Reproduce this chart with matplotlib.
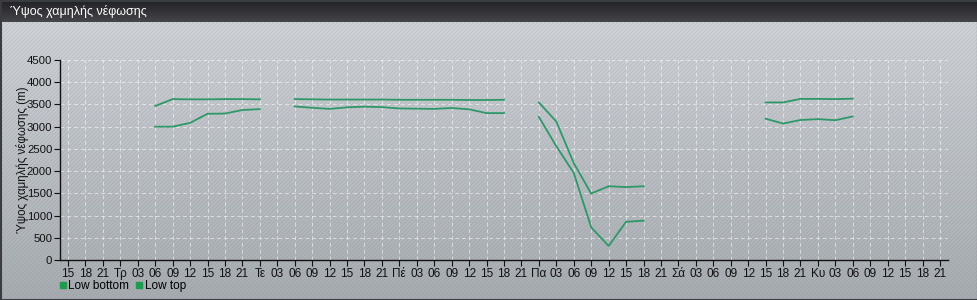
import numpy as np
import matplotlib
matplotlib.use("Agg")
import matplotlib.pyplot as plt
from matplotlib.collections import LineCollection
from matplotlib.lines import Line2D

plt.rcParams["font.family"] = ["Liberation Sans", "DejaVu Sans"]

# ─── Data ────────────────────────────────────────────────────────────────────
TITLE = "Ύψος χαμηλής νέφωσης"
Y_LABEL = "Ύψος χαμηλής νέφωσης (m)"

tick_labels = [
    "15", "18", "21",
    "Τρ", "03", "06", "09", "12", "15", "18", "21",
    "Τε", "03", "06", "09", "12", "15", "18", "21",
    "Πέ", "03", "06", "09", "12", "15", "18", "21",
    "Πα", "03", "06", "09", "12", "15", "18", "21",
    "Σά", "03", "06", "09", "12", "15", "18", "21",
    "Κυ", "03", "06", "09", "12", "15", "18", "21",
]

N = None
low_bottom = [
    N, N, N, N, N,
    3000, 3000, 3085, 3290, 3295, 3375, 3395,
    N,
    3455, 3425, 3400, 3435, 3450, 3440, 3410, 3405, 3400, 3420, 3390, 3305, 3305,
    N,
    3220, 2560, 1960, 735, 315, 860, 885,
    N, N, N, N, N, N,
    3180, 3070, 3150, 3170, 3145, 3230,
    N, N, N, N, N,
]
low_top = [
    N, N, N, N, N,
    3465, 3620, 3615, 3615, 3620, 3620, 3615,
    N,
    3620, 3615, 3610, 3610, 3610, 3610, 3605, 3605, 3605, 3605, 3600, 3600, 3605,
    N,
    3545, 3115, 2180, 1495, 1660, 1640, 1660,
    N, N, N, N, N, N,
    3545, 3545, 3625, 3625, 3620, 3630,
    N, N, N, N, N,
]

series_names = ["Low bottom", "Low top"]
y_ticks = [0, 500, 1000, 1500, 2000, 2500, 3000, 3500, 4000, 4500]

LINE_COLOR = "#2e9868"
LEGEND_COLOR = "#1f9a4e"

W, H = 978, 300

# ─── Figure & background ─────────────────────────────────────────────────────
fig = plt.figure(figsize=(W / 100, H / 100), dpi=100)

bg = fig.add_axes([0, 0, 1, 1])
bg.set_xlim(0, W)
bg.set_ylim(0, H)
bg.axis("off")

# vertical grey gradient
grad = np.linspace(0, 1, 256).reshape(-1, 1)
top_c = np.array([0.815, 0.827, 0.843])
bot_c = np.array([0.655, 0.675, 0.695])
img = top_c + (bot_c - top_c) * grad[:, :, None] * np.ones((1, 2, 1))
bg.imshow(img, extent=[0, W, 0, H - 22], aspect="auto", origin="upper", zorder=0)

# diagonal stripe texture
segs = [[(c, 0), (c + H, H)] for c in range(-H, W + 4, 4)]
bg.add_collection(LineCollection(segs, colors="#7d848c", linewidths=0.55,
                                 alpha=0.22, zorder=1))

# title bar
tb = np.linspace(0, 1, 64).reshape(-1, 1)
tb_img = (np.array([0.13, 0.13, 0.14]) + np.array([0.14, 0.14, 0.15]) * tb[:, :, None]
          * np.ones((1, 2, 1)))
bg.imshow(tb_img, extent=[0, W, H - 22, H], aspect="auto", origin="upper", zorder=2)
bg.text(10, H - 11, TITLE, color="white", fontsize=9, va="center", ha="left", zorder=3)

# outer frame
bg.plot([0.5, W - 0.5, W - 0.5, 0.5, 0.5], [0.5, 0.5, H - 0.5, H - 0.5, 0.5],
        color="#3a3c40", linewidth=1.5, zorder=4)

# ─── Main axes ───────────────────────────────────────────────────────────────
ax = fig.add_axes([60 / W, 40 / H, 888 / W, 200 / H])
ax.patch.set_alpha(0)

x = np.arange(len(tick_labels))
bottom_arr = np.array([np.nan if v is None else v for v in low_bottom], float)
top_arr = np.array([np.nan if v is None else v for v in low_top], float)

ax.plot(x, bottom_arr, color=LINE_COLOR, linewidth=1.3, zorder=3)
ax.plot(x, top_arr, color=LINE_COLOR, linewidth=1.3, zorder=3)

ax.set_xlim(-0.46, len(tick_labels) - 0.54)
ax.set_ylim(0, 4500)
ax.set_xticks(x)
ax.set_xticklabels(tick_labels, fontsize=8.5, color="#111111")
ax.set_yticks(y_ticks)
ax.set_yticklabels([str(v) for v in y_ticks], fontsize=8.2, color="#111111")
ax.tick_params(axis="both", length=4, width=0.8, color="#111111", pad=1.5)
ax.set_ylabel(Y_LABEL, fontsize=8.3, color="#111111")
ax.yaxis.set_label_coords(-31 / 888, 0.5)

ax.grid(True, color="white", linestyle=(0, (4, 3)), linewidth=0.7, alpha=0.55)
ax.set_axisbelow(True)
for side in ("top", "right"):
    ax.spines[side].set_visible(False)
for side in ("left", "bottom"):
    ax.spines[side].set_color("#111111")
    ax.spines[side].set_linewidth(1.0)

# legend
handles = [Line2D([], [], marker="s", linestyle="none", markersize=5,
                  markerfacecolor=LEGEND_COLOR, markeredgecolor=LEGEND_COLOR)
           for _ in series_names]
leg = fig.legend(handles, series_names, loc="lower left",
                 bbox_to_anchor=(59 / W, 8 / H), ncol=2, frameon=False,
                 fontsize=8.5, handlelength=0.6, handletextpad=0.2,
                 columnspacing=0.5, borderaxespad=0, borderpad=0)

fig.savefig("out.png", dpi=100)
